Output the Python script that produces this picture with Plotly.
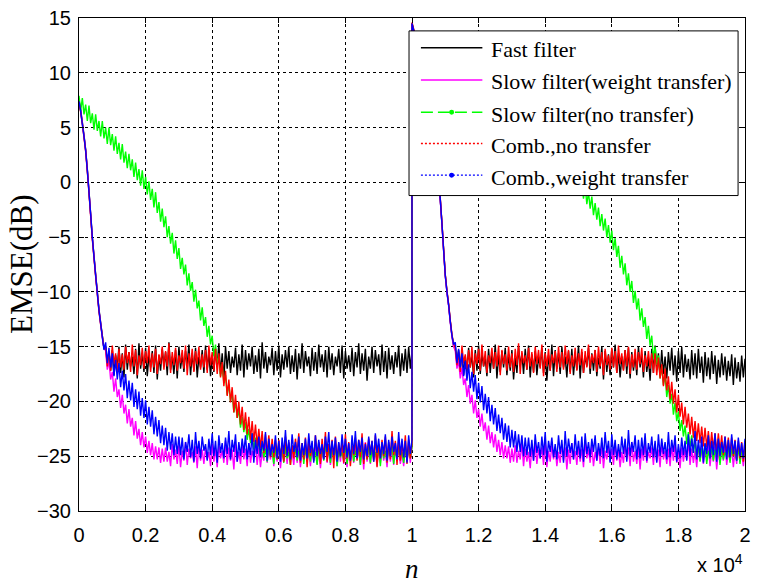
import plotly.graph_objects as go

# sample index n: every 100 samples (plus the last sample before the change at n = 10000)
n = list(range(0, 10000, 100)) + [9999] + list(range(10000, 20001, 100))
# in-between samples, offset by 50
n_mid = list(range(50, 10000, 100)) + list(range(10050, 20000, 100))

# ---------------- EMSE curves (dB) ----------------
# Each curve: values on the main grid (upper swing of the noise) and on the
# offset grid (lower swing of the noise), for the two halves of the run.

# Fast filter
fast_a = [7.5, 5.5, 3.0, -0.8, -5.0, -8.4, -11.6, -14.0, -15.0, -15.4,
          -15.3, -15.8, -15.0, -15.6, -14.8, -15.5, -15.9, -15.2, -14.7, -15.6,
          -15.1, -15.7, -15.4, -14.9, -15.8, -15.2, -15.5, -14.6, -15.9, -15.3,
          -15.0, -15.7, -15.4, -14.8, -15.6, -15.1, -15.9, -15.3, -14.9, -15.5,
          -15.8, -15.2, -14.7, -15.6, -15.0, -15.4, -15.9, -15.1, -15.7, -14.8,
          -15.3, -15.6, -15.0, -15.8, -15.2, -14.6, -15.5, -15.9, -15.1, -15.4,
          -14.9, -15.7, -15.3, -15.0, -15.8, -15.2, -15.6, -14.7, -15.4, -15.9,
          -15.1, -15.5, -14.8, -15.7, -15.3, -15.0, -15.6, -15.9, -15.2, -14.9,
          -15.4, -15.8, -15.1, -15.5, -14.7, -15.6, -15.2, -15.9, -15.0, -15.3,
          -15.7, -14.8, -15.4, -15.1, -15.8, -15.5, -14.9, -15.6, -15.2, -15.0,
          -15.4]
fast_b = [14.5, 13.2, 11.8, 10.3, 8.8, 7.1, 5.3, 3.2, 0.5, -3.8,
          -8.5, -11.2, -14.0, -15.0, -15.3,
          -15.4, -15.9, -15.1, -15.7, -15.3, -14.9, -15.6, -16.0, -15.2, -15.5,
          -14.8, -15.8, -15.4, -15.1, -15.7, -15.3, -16.0, -15.0, -15.6, -15.2,
          -14.9, -15.7, -15.4, -15.9, -15.1, -15.5, -15.8, -14.8, -15.3, -15.6,
          -15.0, -15.9, -15.4, -15.2, -15.7, -14.9, -15.5, -15.8, -15.1, -15.6,
          -15.3, -16.0, -15.0, -15.4, -15.7, -15.2, -14.8, -15.6, -15.9, -15.3,
          -15.1, -15.5, -15.8, -15.0, -15.7, -15.4, -16.0, -15.2, -14.9, -15.6,
          -15.3, -15.9, -15.5, -15.1, -15.8, -15.4, -15.0, -15.7, -16.1, -15.3,
          -15.6, -15.2, -15.9, -15.5, -16.0, -15.4, -15.8, -16.2, -15.6, -15.9,
          -16.3, -15.7, -16.0, -16.4, -15.8, -16.1]
fast_mid_a = [6.6, 4.3, 1.2, -2.9, -6.7, -10.0, -12.8, -15.2, -16.6,
              -17.2, -17.6, -16.9, -17.4, -17.8, -17.1, -16.8, -17.5, -17.9, -17.0,
              -17.3, -17.7, -16.9, -17.4, -18.0, -17.2, -16.8, -17.6, -17.1, -17.5,
              -17.9, -17.0, -17.3, -16.7, -17.6, -17.2, -17.8, -16.9, -17.4, -17.1,
              -17.7, -17.3, -16.8, -17.5, -18.1, -17.0, -17.4, -16.9, -17.6, -17.2,
              -17.8, -17.1, -16.8, -17.5, -17.3, -17.9, -17.0, -17.4, -16.7, -17.6,
              -17.2, -17.8, -17.1, -16.9, -17.5, -17.3, -18.0, -17.0, -17.4, -16.8,
              -17.7, -17.2, -17.5, -16.9, -17.3, -17.8, -17.1, -17.6, -16.8, -17.4,
              -17.9, -17.0, -17.3, -17.7, -16.9, -17.5, -17.2, -18.1, -17.0, -17.4,
              -16.8, -17.6, -17.3, -17.9, -17.1, -17.5, -16.9, -17.7, -17.2, -17.4,
              -17.0]
fast_mid_b = [13.9, 12.5, 11.1, 9.6, 8.0, 6.2, 4.3, 1.9, -1.6, -6.2,
              -10.0, -12.7, -15.0, -16.6,
              -17.1, -17.6, -17.3, -16.9, -17.8, -17.2, -17.5, -16.8, -17.7, -17.4,
              -17.0, -17.9, -17.3, -16.9, -17.6, -17.2, -18.0, -17.4, -16.8, -17.5,
              -17.1, -17.8, -17.3, -17.6, -16.9, -17.4, -18.1, -17.2, -17.7, -17.0,
              -17.5, -16.9, -17.8, -17.3, -17.6, -17.1, -17.9, -17.4, -16.8, -17.5,
              -17.2, -17.7, -17.0, -18.0, -17.3, -17.6, -16.9, -17.4, -17.8, -17.1,
              -17.5, -17.9, -17.2, -17.6, -16.9, -17.8, -17.3, -18.1, -17.4, -17.0,
              -17.7, -17.5, -17.9, -17.2, -17.6, -18.2, -17.4, -17.8, -17.3, -18.0,
              -17.6, -17.9, -17.4, -18.3, -17.7, -18.0, -17.5, -18.4, -17.8, -17.6,
              -18.1, -17.7, -18.5, -17.9, -18.2, -17.8]

# Slow filter (weight transfer)
slow_wt_a = [7.4, 5.4, 2.9, -0.9, -5.1, -8.5, -11.7, -14.2,
             -15.4, -16.3, -17.3, -17.9, -18.9, -19.4, -20.3, -20.7, -21.5, -21.8,
             -22.5, -22.8, -23.2, -23.6, -23.8, -24.1, -24.2, -24.3,
             -24.2, -24.6, -23.9, -24.4, -24.0, -24.5, -23.7, -24.3, -24.6, -24.1,
             -23.8, -24.4, -24.2, -24.6, -23.9, -24.3, -24.0, -24.5, -23.6, -24.2,
             -24.4, -23.9, -24.6, -24.1, -24.3, -23.8, -24.5, -24.0, -24.2, -24.6,
             -23.7, -24.4, -24.1, -24.3, -23.9, -24.5, -24.2, -23.8, -24.6, -24.0,
             -24.3, -24.4, -23.9, -24.5, -24.1, -23.7, -24.3, -24.6, -24.0, -24.2,
             -24.5, -23.8, -24.4, -24.1, -24.6, -23.9, -24.3, -24.0, -24.5, -24.2,
             -23.7, -24.4, -24.1, -24.6, -23.9, -24.3, -24.5, -24.0, -24.2, -23.8,
             -24.4, -24.6, -24.1, -24.3, -24.0]
slow_wt_b = [14.4, 13.1, 11.7, 10.2, 8.7, 7.0, 5.2, 3.1, 0.4, -3.9,
             -8.6, -11.3, -14.1,
             -15.4, -16.3, -16.9, -17.9, -18.5, -19.4, -19.9, -20.7, -21.1, -21.9,
             -22.2, -22.8, -23.0, -23.5, -23.7, -24.0, -24.1, -24.3,
             -24.0, -24.5, -23.8, -24.3, -24.6, -24.1, -23.9, -24.4, -24.2, -23.7,
             -24.5, -24.0, -24.3, -24.6, -23.9, -24.2, -24.4, -23.8, -24.5, -24.1,
             -24.3, -23.6, -24.4, -24.0, -24.6, -24.2, -23.9, -24.5, -24.1, -24.3,
             -23.8, -24.4, -24.6, -24.0, -24.2, -23.7, -24.5, -24.1, -24.3, -23.9,
             -24.6, -24.2, -24.0, -24.4, -23.8, -24.5, -24.3, -24.1, -23.9, -24.6,
             -24.2, -24.4, -23.7, -24.3, -24.5, -24.0, -24.2, -24.6, -23.9, -24.4,
             -24.1, -24.5, -24.3, -23.8, -24.6, -24.2, -24.4, -24.0, -24.5, -24.3]
slow_wt_mid_a = [6.5, 4.2, 1.1, -3.0, -6.8, -10.1, -12.9, -15.1,
                 -17.1, -18.0, -19.1, -19.6, -20.6, -21.1, -22.0, -22.3, -23.1, -23.4,
                 -24.0, -24.2, -24.7, -24.9, -25.3, -25.3, -25.6, -25.5,
                 -25.5, -25.9, -25.3, -25.7, -26.0, -25.4, -25.8, -25.2, -25.6, -26.1,
                 -25.4, -25.7, -25.3, -25.9, -25.5, -26.0, -25.2, -25.6, -25.8, -25.4,
                 -26.2, -25.5, -25.7, -25.3, -25.9, -25.6, -25.2, -25.8, -26.0, -25.4,
                 -25.6, -25.3, -25.9, -25.5, -26.1, -25.4, -25.7, -25.2, -25.8, -25.6,
                 -26.0, -25.3, -25.5, -25.9, -25.4, -25.7, -26.1, -25.3, -25.6, -25.8,
                 -25.2, -25.9, -25.5, -25.7, -26.0, -25.4, -25.6, -25.3, -25.8, -26.2,
                 -25.5, -25.7, -25.3, -25.9, -25.6, -25.4, -26.0, -25.5, -25.8, -25.2,
                 -25.7, -25.9, -25.4, -25.6]
slow_wt_mid_b = [13.8, 12.4, 11.0, 9.5, 7.9, 6.1, 4.2, 1.8, -1.7, -6.3,
                 -10.1, -12.8, -15.0,
                 -17.0, -17.9, -18.5, -19.6, -20.2, -21.1, -21.5, -22.3, -22.7, -23.5,
                 -23.8, -24.2, -24.6, -24.9, -25.2, -25.2, -25.6, -25.5,
                 -25.6, -25.3, -25.9, -25.5, -26.1, -25.4, -25.7, -25.2, -25.8, -26.0,
                 -25.5, -25.3, -25.9, -25.6, -25.4, -26.2, -25.7, -25.3, -25.8, -25.5,
                 -26.0, -25.2, -25.6, -25.9, -25.4, -25.7, -26.1, -25.3, -25.5, -25.8,
                 -25.4, -26.0, -25.6, -25.3, -25.9, -25.5, -25.7, -26.2, -25.4, -25.6,
                 -25.2, -25.8, -25.5, -26.0, -25.3, -25.7, -25.9, -25.4, -25.6, -26.1,
                 -25.5, -25.3, -25.8, -25.6, -26.0, -25.4, -25.7, -25.2, -25.9, -25.5,
                 -26.2, -25.6, -25.4, -25.8, -25.3, -26.0, -25.7, -25.5, -25.9]

# Slow filter (no transfer)
slow_nt_a = [7.9, 7.7, 7.1, 7.0, 6.3, 6.2, 5.6, 5.6, 5.0, 5.0,
             4.4, 4.2, 3.6, 3.5, 2.8, 2.6, 2.1, 1.8, 1.2, 1.1,
             0.5, 0.1, -0.6, -0.9, -1.8, -2.4, -3.1, -4.0, -4.6, -5.3,
             -6.0, -6.9, -7.5, -8.3, -9.1, -9.8, -10.8, -11.4, -12.3, -13.1,
             -14.0, -14.8, -15.9, -16.6, -17.6, -18.4, -19.2, -20.1, -20.8, -21.4,
             -21.9, -22.5, -22.9, -23.3, -23.6, -23.8,
             -24.3, -24.0, -24.5, -24.2, -23.9, -24.4, -24.1, -24.6, -24.0, -24.3,
             -24.5, -23.8, -24.2, -24.4, -24.0, -24.6, -24.1, -24.3, -23.9, -24.5,
             -24.2, -24.0, -24.4, -24.6, -23.9, -24.3, -24.1, -24.5, -24.0, -24.2,
             -24.4, -23.8, -24.3, -24.6, -24.1, -24.0, -24.5, -24.2, -23.9, -24.4,
             -24.1, -24.6, -24.3, -24.0, -24.2]
slow_nt_b = [13.5, 13.6, 13.3, 13.0, 12.7, 12.4, 12.2, 11.9, 11.6, 11.3,
             11.0, 10.7, 10.5, 10.2, 9.9, 9.6, 9.3, 9.0, 8.8, 8.5,
             8.2, 7.9, 7.6, 7.3, 7.1, 6.8, 6.5, 6.2, 5.9, 5.6,
             5.4, 5.1, 4.8, 4.5, 4.2, 3.9, 3.7, 3.4, 3.1, 2.8,
             2.5, 2.2, 2.0, 1.7, 1.4, 1.1, 0.8, 0.5, 0.3, 0.0,
             -0.4,
             -0.1, -0.3, -0.9, -1.3, -1.9, -2.3, -2.9, -3.3, -3.9, -4.4,
             -5.1, -5.8, -6.7, -7.4, -8.3, -9.0, -9.9, -10.6, -11.5, -12.3,
             -13.1, -14.0, -15.0, -15.8, -16.8, -17.6, -18.5, -19.3, -20.1, -20.9,
             -21.7, -22.2, -22.8, -23.1, -23.6,
             -24.0, -24.3, -23.9, -24.5, -24.1, -24.4, -23.8, -24.2, -24.6, -24.0,
             -24.3, -24.5, -24.1, -24.4, -24.2]
slow_nt_mid_a = [6.5, 6.2, 5.6, 5.4, 4.8, 4.7, 4.2, 4.0, 3.5, 3.4,
                 2.9, 2.6, 2.1, 1.8, 1.3, 1.1, 0.5, 0.2, -0.3, -0.6,
                 -1.1, -1.6, -2.3, -2.8, -3.6, -4.1, -5.0, -5.6, -6.5, -7.0,
                 -7.9, -8.4, -9.4, -9.9, -10.9, -11.5, -12.6, -13.1, -14.1, -14.8,
                 -15.9, -16.5, -17.7, -18.3, -19.4, -20.0, -21.0, -21.5, -22.4, -22.8,
                 -23.5, -23.8, -24.4, -24.5, -25.0,
                 -25.1, -25.5, -24.9, -25.7, -25.3, -25.0, -25.6, -25.2, -25.8, -24.9,
                 -25.4, -25.1, -25.7, -25.3, -25.5, -24.9, -25.8, -25.2, -25.4, -25.0,
                 -25.6, -25.3, -25.9, -25.1, -25.4, -25.7, -25.0, -25.5, -25.2, -25.8,
                 -24.9, -25.3, -25.6, -25.1, -25.4, -25.9, -25.2, -25.5, -25.0, -25.7,
                 -25.3, -25.1, -25.6, -25.4, -25.2]
slow_nt_mid_b = [12.9, 12.8, 12.5, 12.2, 11.9, 11.6, 11.4, 11.1, 10.8, 10.5,
                 10.2, 9.9, 9.7, 9.4, 9.1, 8.8, 8.5, 8.2, 8.0, 7.7,
                 7.4, 7.1, 6.8, 6.5, 6.3, 6.0, 5.7, 5.4, 5.1, 4.8,
                 4.6, 4.3, 4.0, 3.7, 3.4, 3.1, 2.9, 2.6, 2.3, 2.0,
                 1.7, 1.4, 1.2, 0.9, 0.6, 0.3, 0.0, -0.3, -0.5, -0.8,
                 -1.1, -1.5, -2.0, -2.4, -3.0, -3.4, -4.0, -4.4, -5.0, -5.5,
                 -6.2, -6.8, -7.8, -8.4, -9.4, -10.0, -11.0, -11.6, -12.6, -13.2,
                 -14.3, -14.9, -16.1, -16.7, -17.9, -18.5, -19.6, -20.2, -21.2, -21.8,
                 -22.7, -23.2, -23.9, -24.2, -24.7,
                 -25.1, -25.5, -24.9, -25.7, -25.2, -25.4, -25.0, -25.8, -25.3, -25.1,
                 -25.6, -25.0, -25.4, -25.7, -25.2]

# Combination, no transfer
comb_nt_a = [7.3, 5.3, 2.8, -1.0, -5.2, -8.6, -11.8, -14.0,
             -15.0, -15.4, -14.9, -15.6, -15.2, -15.7, -15.0, -15.5, -14.8, -15.3,
             -15.8, -15.1, -15.4, -14.9, -15.6, -15.2, -15.7, -15.0, -15.4, -14.7,
             -15.5, -15.1, -15.8, -15.3, -14.9, -15.6, -15.2, -15.4, -15.0, -15.7,
             -15.3, -14.9, -15.5, -15.2,
             -15.6, -16.4, -17.2, -18.0, -18.7, -19.4, -20.0, -20.5, -21.0, -21.4,
             -21.8, -22.1, -22.5, -22.7, -23.0, -23.1, -23.4, -23.5,
             -23.5, -23.9, -23.2, -23.7, -24.0, -23.4, -22.9, -23.8, -23.3, -23.6,
             -24.0, -23.1, -23.7, -23.4, -22.8, -23.9, -23.5, -23.2, -23.8, -23.6,
             -23.0, -23.7, -24.0, -23.3, -23.5, -22.9, -23.8, -23.4, -23.6, -23.1,
             -23.9, -23.5, -23.2, -23.7, -22.7, -23.6, -23.4, -23.9, -23.1, -23.5,
             -23.8]
comb_nt_b = [14.6, 13.3, 11.9, 10.4, 8.9, 7.2, 5.4, 3.3, 0.6, -3.7,
             -8.4, -11.1, -13.9,
             -15.1, -15.5, -14.9, -15.7, -15.3, -15.0, -15.6, -15.2, -14.8, -15.4,
             -15.8, -15.1, -15.5, -14.9, -15.3, -15.7, -15.0, -15.6, -15.2, -14.7,
             -15.4, -15.8, -15.1, -15.5, -15.0, -15.3, -14.8, -15.6, -15.2, -15.7,
             -15.4, -15.0, -15.5, -14.9, -15.3, -15.8, -15.1, -15.6, -15.2, -15.4,
             -14.8, -15.7, -15.3, -15.0, -15.5, -15.2, -15.8, -15.1, -15.4, -14.9,
             -15.6, -15.3, -15.0, -15.7, -15.2, -15.5, -15.1, -15.8, -15.4, -15.6,
             -15.6, -16.0, -16.6, -17.0, -17.7, -18.2, -18.9, -19.4, -20.1, -20.5,
             -21.1, -21.4, -21.8, -22.0, -22.3, -22.4, -22.7, -22.8, -22.9, -22.9,
             -23.1, -23.2, -23.3, -23.3, -23.5, -23.6, -23.7, -23.6]
comb_nt_mid_a = [6.4, 4.1, 1.0, -3.1, -6.9, -10.2, -13.0, -15.2,
                 -16.8, -17.2, -16.6, -17.4, -16.9, -17.1, -16.5, -17.3, -16.8, -17.6,
                 -16.7, -17.0, -16.5, -17.3, -16.9, -17.5, -16.6, -17.1, -16.8, -17.4,
                 -16.7, -17.2, -16.5, -17.0, -17.6, -16.8, -17.3, -16.6, -17.1, -16.9,
                 -17.4, -16.7, -17.2, -17.5,
                 -17.8, -18.6, -19.5, -20.1, -21.0, -21.5, -22.1, -22.6, -23.0, -23.5,
                 -23.7, -24.1, -24.3, -24.7, -24.8, -25.1, -25.1, -25.3,
                 -25.1, -25.5, -24.9, -25.8, -25.2, -24.8, -25.6, -25.3, -26.0, -25.0,
                 -25.4, -24.9, -25.7, -25.2, -25.5, -24.8, -26.1, -25.3, -25.0, -25.6,
                 -25.2, -25.9, -24.9, -25.4, -25.1, -25.7, -25.3, -24.8, -25.5, -26.0,
                 -25.2, -25.0, -25.6, -25.3, -24.9, -25.8, -25.4, -25.1, -25.7, -25.2]
comb_nt_mid_b = [14.0, 12.6, 11.2, 9.7, 8.1, 6.3, 4.4, 2.0, -1.5, -6.1,
                 -9.9, -12.6, -14.7,
                 -16.7, -17.3, -16.5, -17.1, -16.9, -17.5, -16.6, -17.2, -16.8, -17.4,
                 -16.5, -17.0, -16.8, -17.6, -16.6, -17.2, -16.9, -17.3, -16.7, -17.5,
                 -16.5, -17.1, -16.8, -17.4, -16.6, -17.0, -17.7, -16.8, -17.2, -16.5,
                 -17.3, -16.9, -17.1, -16.6, -17.5, -16.8, -17.2, -16.7, -17.4, -16.9,
                 -17.0, -16.5, -17.3, -16.8, -17.6, -16.7, -17.1, -16.9, -17.4, -16.6,
                 -17.2, -16.8, -17.5, -16.9, -17.1, -16.6, -17.3, -16.8, -17.0, -17.4,
                 -17.6, -17.9, -18.6, -19.0, -19.8, -20.2, -21.0, -21.4, -22.1, -22.4,
                 -23.0, -23.3, -23.6, -23.8, -24.1, -24.2, -24.5, -24.4, -24.7, -24.6,
                 -24.9, -24.8, -25.1, -25.0, -25.3, -25.2, -25.5]

# Combination, weight transfer
comb_wt_a = [7.4, 5.3, 2.9, -0.9, -5.0, -8.5, -11.7, -14.1,
             -14.6, -15.1, -15.6, -16.2, -16.5, -17.2, -17.5, -18.1, -18.3, -18.9,
             -19.1, -19.7, -19.9, -20.5, -20.8, -21.4, -21.7, -22.2, -22.4, -22.8,
             -22.9, -23.2, -23.2,
             -23.3, -23.7, -23.0, -23.5, -22.8, -23.6, -23.2, -23.9, -23.4, -22.9,
             -23.6, -23.1, -23.8, -23.3, -22.7, -23.5, -23.0, -23.7, -23.4, -23.1,
             -23.8, -22.9, -23.5, -23.2, -23.6, -22.8, -23.4, -23.9, -23.1, -23.6,
             -23.3, -22.6, -23.5, -23.0, -23.7, -23.2, -23.8, -23.4, -22.9, -23.6,
             -23.1, -23.5, -23.9, -23.2, -22.8, -23.6, -23.3, -23.7, -23.0, -23.4,
             -23.8, -23.1, -22.7, -23.5, -23.3, -23.9, -23.2, -23.6, -22.9, -23.4,
             -23.7, -23.0, -23.5, -23.2, -23.8, -22.8, -23.4, -23.6, -23.1, -23.5]
comb_wt_b = [14.5, 13.2, 11.8, 10.3, 8.8, 7.1, 5.3, 3.2, 0.5, -3.8,
             -8.5, -11.2, -14.0,
             -14.6, -15.2, -15.6, -16.3, -16.6, -17.3, -17.6, -18.3, -18.6, -19.3,
             -19.6, -20.3, -20.6, -21.2, -21.5, -22.0, -22.2, -22.6, -22.7, -23.0,
             -23.1, -23.3, -23.3,
             -23.5, -23.0, -23.7, -23.2, -22.8, -23.6, -23.3, -23.9, -23.1, -23.5,
             -22.7, -23.4, -23.8, -23.0, -23.6, -23.2, -22.9, -23.7, -23.4, -23.1,
             -23.8, -23.3, -22.8, -23.6, -23.0, -23.5, -23.9, -23.2, -23.4, -22.6,
             -23.7, -23.1, -23.5, -23.3, -22.9, -23.8, -23.2, -23.6, -23.0, -23.4,
             -23.7, -22.8, -23.5, -23.1, -23.9, -23.3, -23.6, -23.0, -23.4, -22.7,
             -23.5, -23.2, -23.8, -23.1, -23.6, -22.9, -23.4, -23.7, -23.2, -23.5,
             -23.0, -23.6, -23.3, -23.8, -23.4]
comb_wt_mid_a = [6.5, 4.2, 1.1, -2.9, -6.8, -10.1, -12.9, -15.3,
                 -16.5, -16.9, -17.7, -18.0, -18.7, -19.0, -19.7, -19.9, -20.5, -20.7,
                 -21.3, -21.5, -22.1, -22.3, -23.0, -23.2, -23.8, -24.0, -24.5, -24.4,
                 -24.9, -24.8,
                 -24.9, -25.3, -24.6, -25.1, -25.5, -24.8, -25.2, -24.5, -25.4, -24.9,
                 -25.0, -25.6, -24.7, -25.2, -24.8, -25.3, -24.6, -25.5, -25.0, -24.7,
                 -25.3, -24.9, -25.6, -24.8, -25.1, -24.5, -25.4, -25.0, -24.7, -25.2,
                 -25.5, -24.8, -25.0, -25.3, -24.6, -25.1, -25.4, -24.9, -25.2, -24.7,
                 -25.6, -25.0, -24.8, -25.3, -24.6, -25.2, -24.9, -25.5, -25.0, -24.7,
                 -25.1, -25.4, -24.8, -25.2, -24.6, -25.3, -25.0, -24.9, -25.5, -24.7,
                 -25.2, -24.8, -25.4, -25.0, -24.6, -25.3, -24.9, -25.1, -25.6, -24.8]
comb_wt_mid_b = [13.9, 12.5, 11.1, 9.6, 8.0, 6.2, 4.3, 1.9, -1.6, -6.2,
                 -10.0, -12.7, -14.8,
                 -16.5, -16.9, -17.7, -18.1, -18.8, -19.1, -19.8, -20.1, -20.8, -21.1,
                 -21.8, -22.1, -22.7, -22.9, -23.5, -23.7, -24.2, -24.2, -24.6, -24.6,
                 -25.0, -24.9,
                 -25.0, -25.4, -24.7, -25.2, -24.9, -25.5, -24.6, -25.1, -25.3, -24.8,
                 -25.6, -25.0, -24.7, -25.3, -24.9, -25.2, -25.5, -24.8, -25.1, -24.6,
                 -25.4, -25.0, -25.2, -24.7, -25.6, -24.9, -25.3, -25.1, -24.8, -25.5,
                 -25.0, -24.6, -25.3, -25.2, -24.9, -25.4, -24.7, -25.1, -25.6, -25.0,
                 -24.8, -25.3, -25.1, -24.6, -25.5, -25.2, -24.9, -25.4, -25.0, -24.7,
                 -25.3, -25.1, -25.6, -24.8, -25.2, -24.9, -25.5, -25.0, -24.7, -25.3,
                 -25.1, -24.8, -25.4, -25.0, -25.2]

series_names = ["Fast filter", "Slow filter(weight transfer)", "Slow filter(no transfer)",
                "Comb.,no transfer", "Comb.,weight transfer"]
series_values = [fast_a + fast_b, slow_wt_a + slow_wt_b, slow_nt_a + slow_nt_b,
                 comb_nt_a + comb_nt_b, comb_wt_a + comb_wt_b]
series_mid = [fast_mid_a + fast_mid_b, slow_wt_mid_a + slow_wt_mid_b,
              slow_nt_mid_a + slow_nt_mid_b, comb_nt_mid_a + comb_nt_mid_b,
              comb_wt_mid_a + comb_wt_mid_b]
series_colors = ["#000000", "#ff00ff", "#00ff00", "#ff0000", "#0000ff"]
legend_dash = ["solid", "solid", "12px,5px", "2px,2px", "2px,2px"]
legend_marker = [False, False, True, False, True]

x_tick_vals = list(range(0, 20001, 2000))
x_tick_text = ["0", "0.2", "0.4", "0.6", "0.8", "1", "1.2", "1.4", "1.6", "1.8", "2"]
y_tick_vals = list(range(-30, 16, 5))

for name, vals, mids in zip(series_names, series_values, series_mid):
    if len(vals) != len(n) or len(mids) != len(n_mid):
        raise ValueError(f"{name}: {len(vals)}/{len(n)} and {len(mids)}/{len(n_mid)}")

fig = go.Figure()
for name, vals, mids, col in zip(series_names, series_values, series_mid, series_colors):
    merged = sorted(zip(n + n_mid, vals + mids))
    fig.add_trace(go.Scatter(x=[p[0] for p in merged], y=[p[1] for p in merged],
                             mode="lines", name=name,
                             line=dict(color=col, width=1.4, simplify=False),
                             showlegend=False, hoverinfo="skip"))

# plot-area geometry in pixels (for the boxed legend)
W, H = 758, 585
L, R, T, B = 79, 7, 14, 74
pw, ph = W - L - R, H - T - B


def px_x(p):
    return (p - L) / pw


def px_y(p):
    return (H - B - p) / ph


shapes = [dict(type="rect", xref="paper", yref="paper",
               x0=px_x(412), x1=px_x(744), y0=px_y(193), y1=px_y(27),
               line=dict(color="black", width=1), fillcolor="white", layer="above")]
annotations = []
row_y = [44, 76.5, 109, 140.5, 172.5]
for name, col, dash, mk, ry in zip(series_names, series_colors, legend_dash, legend_marker, row_y):
    shapes.append(dict(type="line", xref="paper", yref="paper",
                       x0=px_x(424), x1=px_x(486), y0=px_y(ry), y1=px_y(ry),
                       line=dict(color=col, width=1.3, dash=dash), layer="above"))
    if mk:
        shapes.append(dict(type="circle", xref="paper", yref="paper",
                           x0=px_x(452.5), x1=px_x(457.5), y0=px_y(ry + 2.5), y1=px_y(ry - 2.5),
                           line=dict(color=col, width=0), fillcolor=col, layer="above"))
    annotations.append(dict(xref="paper", yref="paper", x=px_x(493), y=px_y(ry + 2),
                            text=name, showarrow=False, xanchor="left", yanchor="middle",
                            font=dict(family="Liberation Serif", size=22, color="black")))

annotations += [
    dict(xref="paper", yref="paper", x=px_x(21), y=0.5, text="EMSE(dB)", textangle=-90,
         showarrow=False, xanchor="center", yanchor="middle",
         font=dict(family="Liberation Serif", size=31, color="black")),
    dict(xref="paper", yref="paper", x=px_x(415), y=px_y(569), text="<i>n</i>",
         showarrow=False, xanchor="center", yanchor="middle",
         font=dict(family="Liberation Serif", size=27, color="black")),
    dict(xref="paper", yref="paper", x=px_x(751), y=px_y(564), text="x 10<sup>4</sup>",
         showarrow=False, xanchor="right", yanchor="middle",
         font=dict(family="Liberation Sans", size=20, color="black")),
]

axis_common = dict(showline=True, linecolor="black", linewidth=1, mirror="ticks",
                   ticks="inside", ticklen=5, tickwidth=1, tickcolor="black",
                   showgrid=True, gridcolor="black", griddash="dot", gridwidth=1,
                   zeroline=False,
                   tickfont=dict(family="Liberation Sans", size=20, color="black"))

fig.update_layout(
    width=W, height=H,
    margin=dict(l=L, r=R, t=T, b=B, pad=0),
    paper_bgcolor="white", plot_bgcolor="white",
    xaxis=dict(range=[0, 20000], tickvals=x_tick_vals, ticktext=x_tick_text,
               ticklabelstandoff=6, **axis_common),
    yaxis=dict(range=[-30, 15], tickvals=y_tick_vals, ticklabelstandoff=3, **axis_common),
    shapes=shapes, annotations=annotations,
)

fig.write_html("out.html")
